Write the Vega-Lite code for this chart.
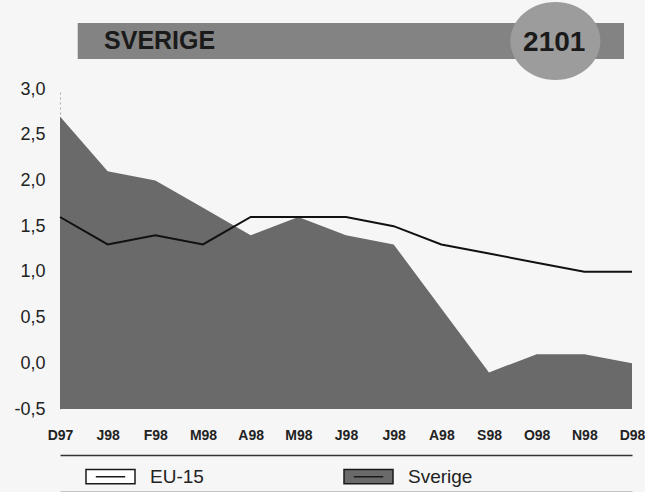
{
  "$schema": "https://vega.github.io/schema/vega-lite/v6.json",
  "background": "#f6f6f6",
  "padding": {"left": 13, "top": 0, "right": 0, "bottom": 0},
  "datasets": {
    "banner": [{"country": "SVERIGE", "code": "2101"}],
    "series": [
      {"month": "1997-12", "sverige": 2.7, "eu15": 1.6},
      {"month": "1998-01", "sverige": 2.1, "eu15": 1.3},
      {"month": "1998-02", "sverige": 2.0, "eu15": 1.4},
      {"month": "1998-03", "sverige": 1.7, "eu15": 1.3},
      {"month": "1998-04", "sverige": 1.4, "eu15": 1.6},
      {"month": "1998-05", "sverige": 1.6, "eu15": 1.6},
      {"month": "1998-06", "sverige": 1.4, "eu15": 1.6},
      {"month": "1998-07", "sverige": 1.3, "eu15": 1.5},
      {"month": "1998-08", "sverige": 0.6, "eu15": 1.3},
      {"month": "1998-09", "sverige": -0.1, "eu15": 1.2},
      {"month": "1998-10", "sverige": 0.1, "eu15": 1.1},
      {"month": "1998-11", "sverige": 0.1, "eu15": 1.0},
      {"month": "1998-12", "sverige": 0.0, "eu15": 1.0}
    ]
  },
  "bounds": "flush",
  "spacing": 7,
  "vconcat": [
    {
      "width": 572,
      "height": 82,
      "data": {"name": "banner"},
      "layer": [
        {
          "mark": {"type": "rect", "color": "#838383"},
          "encoding": {
            "x": {"datum": 0.031, "type": "quantitative", "scale": {"domain": [0, 1]}, "axis": null},
            "x2": {"datum": 0.986},
            "y": {"datum": 0.28, "type": "quantitative", "scale": {"domain": [0, 1]}, "axis": null},
            "y2": {"datum": 0.72}
          }
        },
        {
          "mark": {"type": "point", "filled": true, "color": "#9c9c9c", "opacity": 1, "size": 8100, "shape": "M-1,0A1,0.867,0,1,1,1,0A1,0.867,0,1,1,-1,0Z"},
          "encoding": {
            "x": {"datum": 0.866, "type": "quantitative"},
            "y": {"datum": 0.5, "type": "quantitative"}
          }
        },
        {
          "mark": {"type": "text", "align": "left", "baseline": "middle", "font": "Liberation Sans", "fontWeight": "bold", "fontSize": 25, "color": "#1a1a1a"},
          "encoding": {
            "x": {"datum": 0.077, "type": "quantitative"},
            "y": {"datum": 0.5, "type": "quantitative"},
            "text": {"field": "country"}
          }
        },
        {
          "mark": {"type": "text", "align": "center", "baseline": "middle", "font": "Liberation Sans", "fontWeight": "bold", "fontSize": 28, "color": "#1a1a1a"},
          "encoding": {
            "x": {"datum": 0.864, "type": "quantitative"},
            "y": {"datum": 0.48, "type": "quantitative"},
            "text": {"field": "code"}
          }
        }
      ]
    },
    {
      "width": 572,
      "height": 320,
      "data": {"name": "series"},
      "layer": [
        {
          "mark": {"type": "area", "opacity": 1},
          "encoding": {
            "x": {
              "field": "month", "type": "ordinal",
              "scale": {"type": "point", "padding": 0},
              "axis": {
                "orient": "bottom", "offset": 46, "title": null, "ticks": false, "tickSize": 0,
                "labelPadding": -20, "labelBaseline": "middle", "labelAngle": 0,
                "labelFont": "Liberation Sans", "labelFontWeight": "bold", "labelFontSize": 14, "labelColor": "#222222",
                "domainColor": "#333333", "domainWidth": 1.5,
                "labelExpr": "['J','F','M','A','M','J','J','A','S','O','N','D'][toNumber(slice(datum.value, 5)) - 1] + slice(datum.value, 2, 4)"
              }
            },
            "y": {
              "field": "sverige", "type": "quantitative",
              "scale": {"domain": [-0.5, 3], "nice": false, "zero": false},
              "axis": {
                "title": null, "values": [-0.5, 0, 0.5, 1, 1.5, 2, 2.5, 3], "ticks": false, "grid": false,
                "labelPadding": 15, "labelFont": "Liberation Sans", "labelFontSize": 18, "labelColor": "#222222",
                "labelExpr": "(datum.value < 0 ? '-' : '') + replace(format(abs(datum.value), '.1f'), '.', ',')",
                "domainColor": "#aaaaaa", "domainDash": [2, 3], "domainWidth": 1
              }
            },
            "y2": {"datum": -0.5},
            "color": {
              "datum": "Sverige", "type": "nominal",
              "scale": {"domain": ["EU-15", "Sverige"], "range": ["#ffffff", "#6a6a6a"]},
              "legend": {
                "orient": "none", "legendX": 25, "legendY": 451, "direction": "horizontal", "title": null,
                "symbolType": "M-1,-0.29H1V0.29H-1Z M-0.6,0H0.6",
                "symbolSize": 2401, "symbolStrokeWidth": 1.5, "symbolStrokeColor": "#1a1a1a",
                "symbolOpacity": 1,
                "labelFontSize": 19, "labelFont": "Liberation Sans",
                "labelColor": "#222222", "labelOffset": 14, "columnPadding": 137, "padding": 0
              }
            }
          }
        },
        {
          "mark": {"type": "line", "strokeWidth": 2, "color": "#111111"},
          "encoding": {
            "x": {
              "field": "month", "type": "ordinal",
              "scale": {"type": "point", "padding": 0},
              "axis": {"orient": "bottom", "offset": 83, "title": null, "labels": false, "ticks": false, "domainColor": "#333333", "domainWidth": 1.5}
            },
            "y": {
              "field": "eu15", "type": "quantitative",
              "axis": {
                "title": null, "values": [-0.5, 0, 0.5, 1, 1.5, 2, 2.5, 3], "ticks": false, "grid": false,
                "labelPadding": 15, "labelFont": "Liberation Sans", "labelFontSize": 18, "labelColor": "#222222",
                "labelExpr": "(datum.value < 0 ? '-' : '') + replace(format(abs(datum.value), '.1f'), '.', ',')",
                "domainColor": "#aaaaaa", "domainDash": [2, 3], "domainWidth": 1
              }
            }
          }
        }
      ],
      "resolve": {"axis": {"x": "independent"}}
    }
  ],
  "config": {"view": {"stroke": null}}
}
